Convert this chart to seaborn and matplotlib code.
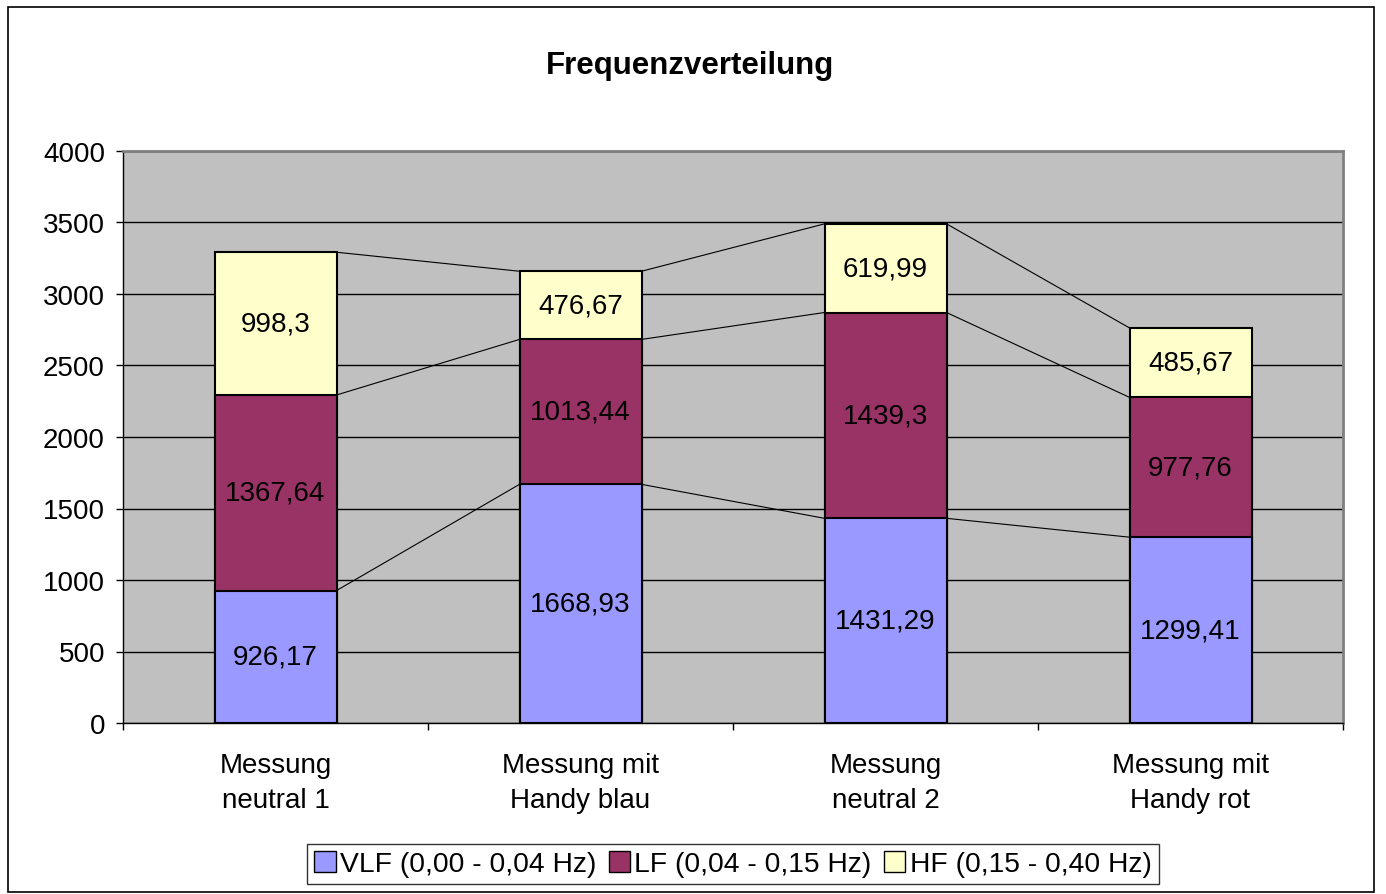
import matplotlib.pyplot as plt
import matplotlib.patches as mpatches
import seaborn as sns
import pandas as pd

# data
categories = ["Messung\nneutral 1", "Messung mit\nHandy blau", "Messung\nneutral 2", "Messung mit\nHandy rot"]
vlf = [926.17, 1668.93, 1431.29, 1299.41]
lf = [1367.64, 1013.44, 1439.3, 977.76]
hf = [998.3, 476.67, 619.99, 485.67]
series_names = ["VLF (0,00 - 0,04 Hz)", "LF (0,04 - 0,15 Hz)", "HF (0,15 - 0,40 Hz)"]
colors = ["#9999FF", "#993366", "#FFFFCC"]

sns.set_theme(style="white")
plt.rcParams["font.family"] = ["Liberation Sans", "DejaVu Sans"]
plt.rcParams["text.color"] = "black"
plt.rcParams["xtick.color"] = "black"
plt.rcParams["ytick.color"] = "black"

df = pd.DataFrame({"cat": categories, "VLF": vlf, "LF": lf, "HF": hf})
df["c1"] = df["VLF"]
df["c2"] = df["c1"] + df["LF"]
df["c3"] = df["c2"] + df["HF"]

fig = plt.figure(figsize=(13.86, 8.95), dpi=100)
ax = fig.add_axes([123 / 1386, 1 - 724 / 895, 1220 / 1386, 572 / 895])
ax.set_facecolor("#C0C0C0")

# stacked bars: draw cumulative totals, tallest first
for col, color in zip(["c3", "c2", "c1"], colors[::-1]):
    sns.barplot(data=df, x="cat", y=col, color=color, width=0.4, saturation=1,
                edgecolor="black", linewidth=1.5, ax=ax, zorder=3)

# series lines between bars
for col in ["c1", "c2", "c3"]:
    vals = df[col].values
    for i in range(len(vals) - 1):
        ax.plot([i + 0.2, i + 0.8], [vals[i], vals[i + 1]], color="black", lw=0.8, zorder=2)

# value labels
fs = 20
fmt = lambda v: ("%g" % v).replace(".", ",")
for i in range(len(categories)):
    ax.text(i, df["c1"][i] / 2, fmt(vlf[i]), ha="center", va="center", fontsize=fs, zorder=4)
    ax.text(i, df["c1"][i] + lf[i] / 2, fmt(lf[i]), ha="center", va="center", fontsize=fs, zorder=4)
    ax.text(i, df["c2"][i] + hf[i] / 2, fmt(hf[i]), ha="center", va="center", fontsize=fs, zorder=4)

ax.set_ylim(0, 4000)
ax.set_yticks(range(0, 4001, 500))
ax.yaxis.grid(True, color="black", lw=1)
ax.set_axisbelow(True)
ax.set_xlim(-0.5, 3.5)
ax.set_xticks([-0.5, 0.5, 1.5, 2.5, 3.5])
ax.set_xticklabels([])
ax.set_xticks(range(4), minor=True)
ax.set_xticklabels(categories, minor=True, fontsize=fs, linespacing=1.45)
ax.tick_params(axis="x", which="major", bottom=True, length=5, width=1, color="black")
ax.tick_params(axis="x", which="minor", bottom=True, length=0, pad=21)
ax.tick_params(axis="y", left=True, length=5, width=1, color="black", labelsize=fs, pad=8)
ax.set_xlabel("")
ax.set_ylabel("")
for s in ["top", "right"]:
    ax.spines[s].set_color("#808080")
    ax.spines[s].set_linewidth(2)
for s in ["left", "bottom"]:
    ax.spines[s].set_color("black")
    ax.spines[s].set_linewidth(1)

fig.text(690 / 1386, 1 - 66 / 895, "Frequenzverteilung", ha="center", va="center",
         fontsize=22.5, fontweight="bold")

handles = [mpatches.Patch(facecolor=c, edgecolor="black", label=n) for c, n in zip(colors, series_names)]
leg = fig.legend(handles=handles, loc="center", bbox_to_anchor=(733 / 1386, 1 - 865 / 895), ncol=3,
                 fontsize=fs + 0.3, frameon=True, fancybox=False, handlelength=0.75, handleheight=0.75,
                 handletextpad=0.15, columnspacing=0.45, borderpad=0.25, borderaxespad=0)
leg.get_frame().set_edgecolor("black")
leg.get_frame().set_linewidth(1)

fig.patches.append(mpatches.Rectangle((8 / 1386, 2 / 895), 1366 / 1386, 885 / 895, transform=fig.transFigure,
                                      fill=False, edgecolor="black", lw=1.2))

fig.savefig("out.png", dpi=100)
